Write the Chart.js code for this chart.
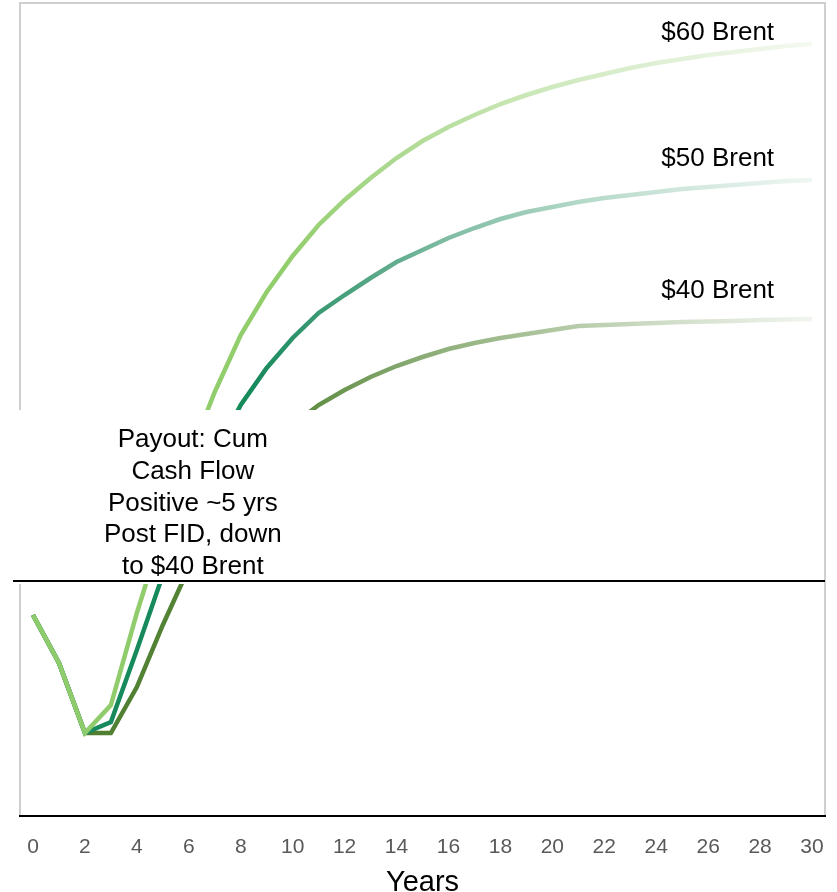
<!DOCTYPE html>
<html>
<head>
<meta charset="utf-8">
<script src="https://cdn.jsdelivr.net/npm/chart.js@4/dist/chart.umd.min.js"></script>
<style>
  html, body { margin: 0; padding: 0; background: #fff; }
  #wrap { width: 837px; height: 892px; position: relative; }
</style>
</head>
<body>
<div id="wrap"><canvas id="chart"></canvas></div>
<script>
// années après FID
const years = Array.from({ length: 31 }, (_, i) => String(i));

// flux de trésorerie cumulés (unités arbitraires)
const brent60 = [-0.34, -0.82, -1.52, -1.24, -0.32, 0.51, 1.23, 1.89, 2.46, 2.89,
  3.25, 3.56, 3.81, 4.03, 4.23, 4.40, 4.54, 4.66, 4.77, 4.86,
  4.94, 5.01, 5.07, 5.13, 5.18, 5.22, 5.26, 5.29, 5.32, 5.35, 5.37];
const brent50 = [-0.34, -0.82, -1.52, -1.41, -0.69, 0.06, 0.69, 1.26, 1.76, 2.13,
  2.43, 2.68, 2.86, 3.03, 3.19, 3.31, 3.43, 3.53, 3.62, 3.69,
  3.74, 3.79, 3.83, 3.86, 3.89, 3.92, 3.94, 3.96, 3.98, 4.00, 4.01];
const brent40 = [-0.34, -0.82, -1.52, -1.52, -1.06, -0.44, 0.13, 0.61, 1.01, 1.31,
  1.56, 1.76, 1.91, 2.04, 2.15, 2.24, 2.32, 2.38, 2.43, 2.47,
  2.51, 2.55, 2.56, 2.57, 2.58, 2.59, 2.595, 2.60, 2.61, 2.615, 2.62];

const seriesNames = ["$60 Brent", "$50 Brent", "$40 Brent"];
const noteLines = ["Payout: Cum", "Cash Flow", "Positive ~5 yrs", "Post FID, down", "to $40 Brent"];

const FONT = "'Liberation Sans', Arial, sans-serif";

// dégradé qui s'efface vers la droite
const fade = (stops) => (ctx) => {
  const chart = ctx.chart;
  const area = chart.chartArea;
  if (!area) return stops[0][1];
  const g = chart.ctx.createLinearGradient(area.left, 0, area.right, 0);
  stops.forEach(([p, c]) => g.addColorStop(p, c));
  return g;
};

const labelsPlugin = {
  id: "labelsPlugin",
  beforeDraw(chart) {
    const { ctx, chartArea: a } = chart;
    ctx.save();
    ctx.strokeStyle = "#cfcfcf";
    ctx.lineWidth = 2;
    ctx.beginPath();
    ctx.moveTo(a.left, a.bottom);
    ctx.lineTo(a.left, a.top);
    ctx.lineTo(a.right, a.top);
    ctx.lineTo(a.right, a.bottom);
    ctx.stroke();
    ctx.restore();
  },
  afterDatasetsDraw(chart) {
    const { ctx, chartArea: a, scales } = chart;
    const x = scales.x, y = scales.y;
    const y0 = y.getPixelForValue(0);
    ctx.save();

    // encadré blanc du commentaire
    const boxTop = y.getPixelForValue(1.71);
    ctx.fillStyle = "#fff";
    ctx.fillRect(a.left - 8, boxTop, x.getPixelForValue(11) - a.left + 8, y0 - boxTop + 3);

    ctx.fillStyle = "#000";
    ctx.font = "26px " + FONT;
    ctx.textAlign = "center";
    ctx.textBaseline = "middle";
    const cx = x.getPixelForValue(6) + 4;
    noteLines.forEach((t, i) => {
      ctx.fillText(t, cx, y0 - 14 - (noteLines.length - 1 - i) * 31.75);
    });

    // ligne zéro
    ctx.strokeStyle = "#000";
    ctx.lineWidth = 2;
    ctx.beginPath();
    ctx.moveTo(a.left - 7, y0);
    ctx.lineTo(a.right, y0);
    ctx.stroke();

    // étiquettes des scénarios
    ctx.font = "26px " + FONT;
    ctx.textAlign = "right";
    const lift = [41, 39, 34];
    [brent60, brent50, brent40].forEach((s, i) => {
      ctx.fillText(seriesNames[i], x.getPixelForValue(28) + 14, y.getPixelForValue(s[22]) - lift[i]);
    });
    ctx.restore();
  },
};

new Chart(document.getElementById("chart"), {
  type: "line",
  data: {
    labels: years,
    datasets: [
      {
        label: seriesNames[0],
        data: brent60,
        borderColor: fade([[0, "#8ecb6a"], [0.33, "#93ce6d"], [0.5, "#b3dc99"], [0.65, "#cde9bb"], [0.8, "#e0f0d6"], [1, "#f6faf3"]]),
        borderWidth: 4.5,
        pointRadius: 0,
      },
      {
        label: seriesNames[1],
        data: brent50,
        borderColor: fade([[0, "#168a5c"], [0.29, "#178a5c"], [0.42, "#4fa381"], [0.55, "#86c0a8"], [0.7, "#b5d9c9"], [0.85, "#d6eae1"], [1, "#f1f8f4"]]),
        borderWidth: 4.5,
        pointRadius: 0,
      },
      {
        label: seriesNames[2],
        data: brent40,
        borderColor: fade([[0, "#4b7a2c"], [0.34, "#5a8a3b"], [0.48, "#85a870"], [0.62, "#a6c096"], [0.78, "#ccdac3"], [1, "#f4f7f2"]]),
        borderWidth: 4.5,
        pointRadius: 0,
      },
    ],
  },
  options: {
    responsive: true,
    maintainAspectRatio: false,
    animation: false,
    layout: { padding: { left: 20, right: 12, top: 3, bottom: 0 } },
    plugins: {
      legend: { display: false },
      tooltip: { enabled: false },
    },
    scales: {
      x: {
        offset: true,
        grid: { display: true, drawOnChartArea: false, drawTicks: true, tickLength: 18, color: "rgba(0,0,0,0)" },
        border: { display: true, color: "#000", width: 2 },
        ticks: {
          autoSkip: false,
          maxRotation: 0,
          padding: 3,
          color: "#595959",
          font: { family: FONT, size: 21, lineHeight: 1 },
          callback: (v, i) => (i % 2 === 0 ? years[i] : ""),
        },
        title: {
          display: true,
          text: "Years",
          color: "#000",
          font: { family: FONT, size: 29, lineHeight: 1 },
          padding: { top: 7, bottom: -5 },
        },
      },
      y: {
        display: false,
        min: -2.35,
        max: 5.78,
      },
    },
  },
  plugins: [labelsPlugin],
});
</script>
</body>
</html>
